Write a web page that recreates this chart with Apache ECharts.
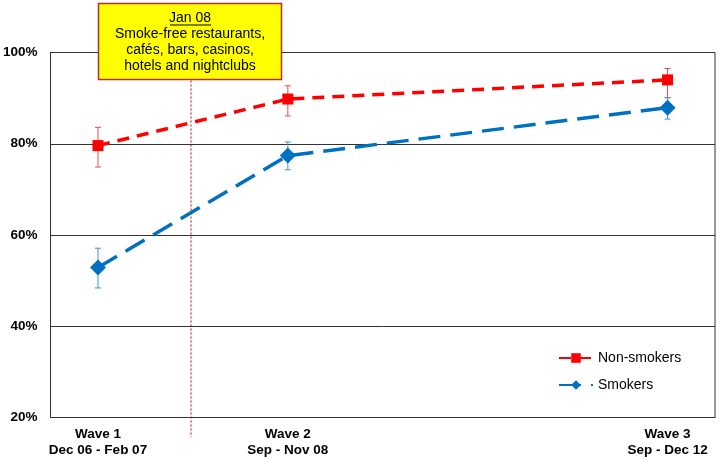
<!DOCTYPE html>
<html><head><meta charset="utf-8">
<script src="https://cdn.jsdelivr.net/npm/echarts@6/dist/echarts.min.js"></script>
<style>html,body{margin:0;padding:0;background:#fff}#c{width:719px;height:461px}</style>
</head><body><div id="c"></div>
<script>
const waveX = [1, 2, 4];
const waveLabels = ['Wave 1\nDec 06 - Feb 07', 'Wave 2\nSep - Nov 08', 'Wave 3\nSep - Dec 12'];
const nonSmokers = [79.6, 89.8, 94.0];
const nonSmokersLow = [74.9, 86.1, 90.1];
const nonSmokersHigh = [83.6, 92.7, 96.5];
const smokers = [52.9, 77.4, 87.9];
const smokersLow = [48.4, 74.3, 85.4];
const smokersHigh = [57.1, 80.4, 90.1];
const yTicks = [20, 40, 60, 80, 100];
const policyX = 1.49;
const policyLine = [100, 15.7];
const noteLines = ['Smoke-free restaurants,', 'cafés, bars, casinos,', 'hotels and nightclubs'];
const noteTitle = 'Jan 08';

const FONT = '"Liberation Sans", Arial, sans-serif';
const chart = echarts.init(document.getElementById('c'), null, {renderer: 'canvas'});

function errSeries(name, lows, highs, color) {
  return {
    type: 'custom', name: name, silent: true, z: 3,
    data: waveX.map((x, i) => [x, lows[i], highs[i]]),
    renderItem: function (params, api) {
      const top = api.coord([api.value(0), api.value(2)]);
      const bot = api.coord([api.value(0), api.value(1)]);
      const w = 3;
      const st = {stroke: color, lineWidth: 1};
      return {type: 'group', children: [
        {type: 'line', shape: {x1: top[0], y1: top[1], x2: bot[0], y2: bot[1]}, style: st},
        {type: 'line', shape: {x1: top[0]-w, y1: top[1], x2: top[0]+w, y2: top[1]}, style: st},
        {type: 'line', shape: {x1: bot[0]-w, y1: bot[1], x2: bot[0]+w, y2: bot[1]}, style: st}
      ]};
    }
  };
}

const option = {
  animation: false,
  textStyle: {fontFamily: FONT},
  grid: {left: 50, right: 4, top: 52.5, bottom: 43.5, show: true, borderColor: '#333', borderWidth: 1, containLabel: false},
  xAxis: {
    type: 'value', min: 0.75, max: 4.25,
    splitLine: {show: false}, axisTick: {show: false},
    axisLine: {show: true, lineStyle: {color: '#333'}},
    axisLabel: {
      customValues: waveX, margin: 9, color: '#000', fontWeight: 'bold', fontSize: 13.5, lineHeight: 16, fontFamily: FONT,
      formatter: function (v) { const i = waveX.indexOf(v); return i >= 0 ? waveLabels[i] : ''; }
    }
  },
  yAxis: {
    type: 'value', min: yTicks[0], max: yTicks[yTicks.length - 1], interval: 20,
    axisLine: {show: true, lineStyle: {color: '#333'}}, axisTick: {show: false},
    splitLine: {show: true, lineStyle: {color: '#333', width: 1}},
    axisLabel: {formatter: '{value}%', color: '#000', fontWeight: 'bold', fontSize: 13.5, margin: 13, fontFamily: FONT}
  },
  legend: {
    left: 553, top: 346, orient: 'vertical', itemWidth: 34, itemHeight: 12, itemGap: 13,
    textStyle: {fontSize: 14, color: '#000', fontFamily: FONT},
    data: ['Non-smokers', 'Smokers']
  },
  series: [
    {
      type: 'line', name: 'policy', silent: true, clip: false, z: 1, symbol: 'none',
      data: policyLine.map(y => [policyX, y]),
      lineStyle: {color: '#c00000', width: 1, type: [2, 2]}
    },
    errSeries('nsErr', nonSmokersLow, nonSmokersHigh, '#f04a4a'),
    errSeries('sErr', smokersLow, smokersHigh, '#3f95d6'),
    {
      type: 'line', name: 'Non-smokers', z: 4,
      data: waveX.map((x, i) => [x, nonSmokers[i]]),
      symbol: 'rect', symbolSize: 11,
      itemStyle: {color: '#ff0000'},
      lineStyle: {color: '#ff0000', width: 3.5, type: [12, 8]}
    },
    {
      type: 'line', name: 'Smokers', z: 4,
      data: waveX.map((x, i) => [x, smokers[i]]),
      symbol: 'diamond', symbolSize: 16,
      itemStyle: {color: '#0070c0'},
      lineStyle: {color: '#0070c0', width: 3.5, type: [22, 10]}
    }
  ],
  graphic: [
    {type: 'rect', z: 10, shape: {x: 98.5, y: 3.5, width: 183, height: 76}, style: {fill: '#ffff00', stroke: '#b0302a', lineWidth: 1.5}},
    {type: 'text', z: 11, x: 190, y: 18, style: {text: noteTitle, fill: '#000', font: '14px ' + FONT, align: 'center', verticalAlign: 'middle'}},
    {type: 'line', z: 11, shape: {x1: 170, y1: 25, x2: 211, y2: 25}, style: {stroke: '#000', lineWidth: 1}},
    {type: 'text', z: 11, x: 190, y: 26.5, style: {text: noteLines.join('\n'), fill: '#000', font: '14px ' + FONT, lineHeight: 16, align: 'center', verticalAlign: 'top'}}
  ]
};
chart.setOption(option);
</script></body></html>
